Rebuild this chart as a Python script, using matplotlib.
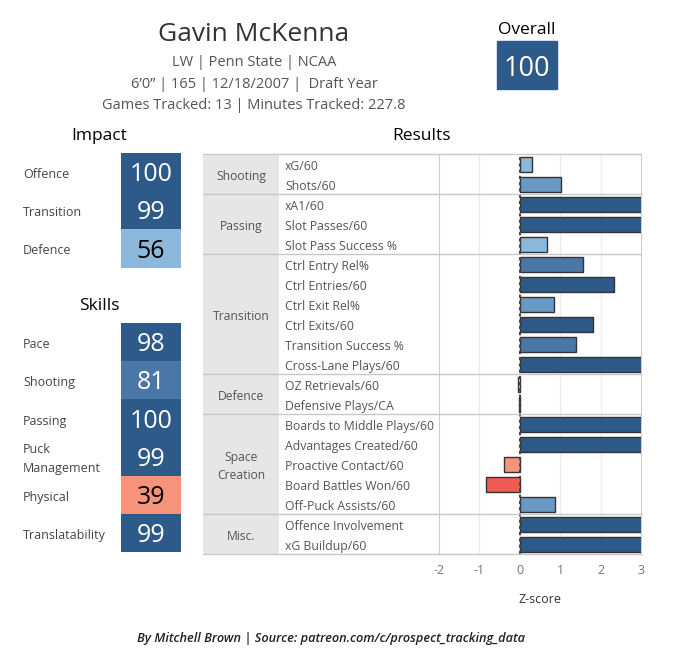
import matplotlib.pyplot as plt
import matplotlib.transforms as mtransforms
from matplotlib.patches import Rectangle

plt.rcParams['font.family'] = ['Open Sans', 'DejaVu Sans']
plt.rcParams['axes.unicode_minus'] = False

# ---- data ----
player = "Gavin McKenna"
info_lines = ["LW | Penn State | NCAA",
              "6\u20190\u201d | 165 | 12/18/2007 |  Draft Year",
              "Games Tracked: 13 | Minutes Tracked: 227.8"]
overall = 100

impact_labels = ["Offence", "Transition", "Defence"]
impact_values = [100, 99, 56]

skill_labels = ["Pace", "Shooting", "Passing", "Puck\nManagement", "Physical", "Translatability"]
skill_values = [98, 81, 100, 99, 39, 99]

groups = ["Shooting", "Passing", "Transition", "Defence", "Space\nCreation", "Misc."]
group_sizes = [2, 3, 6, 2, 5, 2]
metrics = ["xG/60", "Shots/60",
           "xA1/60", "Slot Passes/60", "Slot Pass Success %",
           "Ctrl Entry Rel%", "Ctrl Entries/60", "Ctrl Exit Rel%", "Ctrl Exits/60",
           "Transition Success %", "Cross-Lane Plays/60",
           "OZ Retrievals/60", "Defensive Plays/CA",
           "Boards to Middle Plays/60", "Advantages Created/60", "Proactive Contact/60",
           "Board Battles Won/60", "Off-Puck Assists/60",
           "Offence Involvement", "xG Buildup/60"]
zscores = [0.30, 1.01,
           3.5, 3.5, 0.67,
           1.56, 2.32, 0.85, 1.80, 1.38, 3.5,
           -0.05, -0.03,
           3.5, 3.5, -0.40, -0.84, 0.86,
           3.5, 3.5]

DARK = '#2d5a88'
MED = '#4a77a6'
LIGHT2 = '#6799c4'
LIGHT = '#8cb8dc'
SALMON = '#f8937b'
RED = '#ef5b50'


def bar_color(v):
    if v >= 1.7:
        return DARK
    if v >= 1.3:
        return MED
    if v >= 0.75:
        return LIGHT2
    if v > 0.1:
        return LIGHT
    if v > -0.1:
        return 'white'
    if v > -0.6:
        return SALMON
    return RED


def tile_color(v):
    if v >= 90:
        return DARK, 'white'
    if v >= 75:
        return MED, 'white'
    if v >= 50:
        return LIGHT, 'black'
    return SALMON, 'black'


W, H = 684, 664
DY = 2.5  # Open Sans sits a little high with va='center'
fig = plt.figure(figsize=(W / 100, H / 100), dpi=100)
bg = fig.add_axes([0, 0, 1, 1])
bg.set_xlim(0, W)
bg.set_ylim(H, 0)
bg.axis('off')

# header
bg.text(254, 32 + DY, player, ha='center', va='center', fontsize=19, color='#333333')
for i, line in enumerate(info_lines):
    bg.text(254, 60 + DY + i * 21.5, line, ha='center', va='center', fontsize=10.5, color='#555555')

bg.text(527, 28 + DY, "Overall", ha='center', va='center', fontsize=12.5, color='black')
c, tc = tile_color(overall)
bg.add_patch(Rectangle((497, 41), 60, 48, color=c))
bg.text(527, 66 + DY, str(overall), ha='center', va='center', fontsize=19.5, color=tc)


def tiles(title, title_y, top, labels, values):
    bg.text(99, title_y + DY, title, ha='center', va='center', fontsize=12.5, color='black')
    h = 38.2
    for i, (lab, v) in enumerate(zip(labels, values)):
        y0 = top + i * h
        c, tc = tile_color(v)
        bg.add_patch(Rectangle((121, y0), 60, h, color=c, lw=0))
        bg.text(151, y0 + h / 2 + DY, str(v), ha='center', va='center', fontsize=18, color=tc)
        bg.text(23, y0 + h / 2 + DY, lab, ha='left', va='center', fontsize=9, color='#444444',
                linespacing=1.6)


tiles("Impact", 133, 153, impact_labels, impact_values)
tiles("Skills", 303, 323, skill_labels, skill_values)

bg.text(421, 133 + DY, "Results", ha='center', va='center', fontsize=12.5, color='black')

# ---- results table ----
n = len(metrics)
ax = fig.add_axes([439 / W, 1 - 554 / H, 202 / W, 400 / H])
ax.set_xlim(-2, 3)
ax.set_ylim(n - 0.5, -0.5)
ys = list(range(n))
ax.barh(ys, zscores, height=0.75, color=[bar_color(v) for v in zscores],
        edgecolor='#333333', linewidth=1, zorder=3)
ax.axvline(0, color='#444444', ls=(0, (1.5, 1.5)), lw=1.5, zorder=4)
for g in [-1, 1, 2]:
    ax.axvline(g, color='#ececec', lw=1, zorder=1)
ax.set_yticks([])
ax.set_xticks([-2, -1, 0, 1, 2, 3])
ax.tick_params(axis='x', length=0, labelsize=9, labelcolor='#777777', pad=7)
ax.set_xlabel("Z-score", fontsize=9, color='#333333', labelpad=12)
for s in ['top', 'bottom']:
    ax.spines[s].set_visible(False)
for s in ['left', 'right']:
    ax.spines[s].set_color('#cccccc')

trans = mtransforms.blended_transform_factory(bg.transData, ax.transData)
rowpx = 400 / n
for i, m in enumerate(metrics):
    ax.text(285, i + DY / rowpx, m, transform=trans, ha='left', va='center', fontsize=8.8,
            color='#555555', clip_on=False)

start = 0
bounds = [-0.5]
for g, size in zip(groups, group_sizes):
    ax.add_patch(Rectangle((203, start - 0.5), 76, size, transform=trans,
                           color='#e6e6e6', lw=0, clip_on=False, zorder=0))
    ax.text(241, start - 0.5 + size / 2 + DY / rowpx, g, transform=trans, ha='center',
            va='center', fontsize=8.7, color='#555555', clip_on=False, linespacing=1.5)
    start += size
    bounds.append(start - 0.5)
for b in bounds:
    ax.plot([203, 641], [b, b], transform=trans, color='#c8c8c8', lw=1, clip_on=False, zorder=5)

# footer
bg.text(331, 636 + DY, "By Mitchell Brown | Source: patreon.com/c/prospect_tracking_data",
        ha='center', va='center', fontsize=9.2, style='italic', weight='semibold', color='#222222')

fig.savefig('out.png', dpi=100)
